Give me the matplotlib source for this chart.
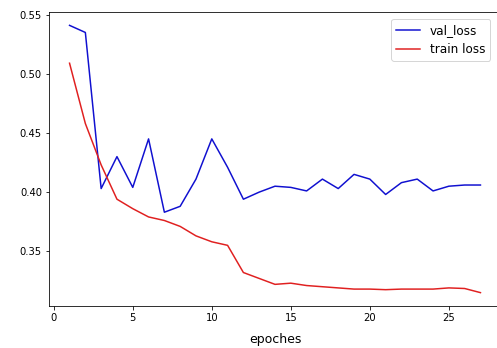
import matplotlib
matplotlib.use("Agg")
import matplotlib.pyplot as plt

epochs = list(range(1, 28))
val_loss = [0.541, 0.535, 0.403, 0.430, 0.404, 0.445, 0.383, 0.388, 0.411, 0.445,
            0.421, 0.394, 0.400, 0.405, 0.404, 0.401, 0.411, 0.403, 0.415, 0.411,
            0.398, 0.408, 0.411, 0.401, 0.405, 0.406, 0.406]
train_loss = [0.509, 0.458, 0.423, 0.394, 0.386, 0.379, 0.376, 0.371, 0.363, 0.358,
              0.355, 0.332, 0.327, 0.322, 0.323, 0.321, 0.320, 0.319, 0.318, 0.318,
              0.3175, 0.318, 0.318, 0.318, 0.319, 0.3185, 0.315]

fig = plt.figure(figsize=(497/72, 348/72), dpi=72)
ax = fig.add_axes([49/497, 1-306/348, (501-49)/497, (306-12)/348])
ax.plot(epochs, val_loss, color='#1010d0', label='val_loss')
ax.plot(epochs, train_loss, color='#e02020', label='train loss')
ax.set_xlabel('epoches', fontsize=12.5, labelpad=10)
ax.legend(loc='upper right', fontsize=12, borderaxespad=0,
          bbox_to_anchor=(490/497, 1-19/348), bbox_transform=fig.transFigure)
fig.savefig("out.png", dpi=72)
